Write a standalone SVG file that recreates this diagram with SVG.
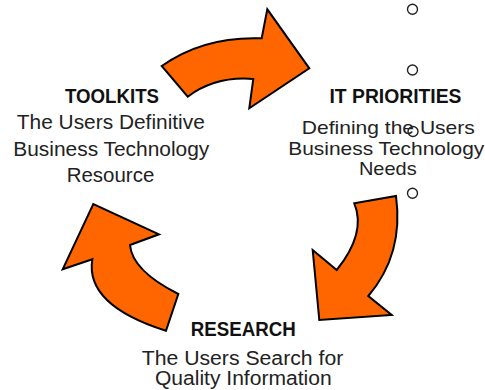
<svg xmlns="http://www.w3.org/2000/svg" width="485" height="390" viewBox="0 0 485 390">
<style>
.arrow{fill:#ff6600;stroke:#000;stroke-width:2;stroke-linejoin:miter}
.dot{fill:#fff;stroke:#222;stroke-width:1.4}
.h{font-family:"Liberation Sans",Arial,sans-serif;font-weight:bold;font-size:21px;fill:#111;text-anchor:middle}
.b{font-family:"Liberation Sans",Arial,sans-serif;font-size:20px;fill:#222;text-anchor:middle}
.s{font-size:19px}
</style>
<rect width="485" height="390" fill="#fff"/>
<g id="connectors">
<path class="arrow" d="M161.7,66 Q204,36 261.7,38.3 L267.3,9.3 L309.3,68.3 L249.3,108.3 L253.3,79 Q215.5,76 187.7,96.7 Z"/>
<path class="arrow" d="M396,196 Q404,254 368.3,296 L391.7,315 L319.3,320 L312.7,250 L336.7,270 Q366.5,233 354.3,203.3 Z"/>
<path class="arrow" d="M166,330.7 Q85,305 92.3,259.3 L62.7,269.3 L93.3,204 L159,234.3 L130,245 Q132,270.5 178.3,294 Z"/>
</g>
<g id="dots">
<circle class="dot" cx="412.5" cy="9.3" r="5"/>
<circle class="dot" cx="412.5" cy="70" r="5"/>
<circle class="dot" cx="413" cy="131.5" r="5"/>
<circle class="dot" cx="412.5" cy="193.3" r="5"/>
</g>
<g id="toolkits">
<text class="h" x="112" y="103.3" textLength="94" lengthAdjust="spacingAndGlyphs">TOOLKITS</text>
<text class="b" x="110.8" y="129" textLength="188" lengthAdjust="spacingAndGlyphs">The Users Definitive</text>
<text class="b" x="111.3" y="155.5" textLength="196" lengthAdjust="spacingAndGlyphs">Business Technology</text>
<text class="b" x="110.5" y="181.5" textLength="87.6" lengthAdjust="spacingAndGlyphs">Resource</text>
</g>
<g id="it-priorities">
<text class="h" x="395.5" y="103.3" textLength="132" lengthAdjust="spacingAndGlyphs">IT PRIORITIES</text>
<text class="b s" x="388.3" y="134" textLength="173" lengthAdjust="spacingAndGlyphs">Defining the Users</text>
<text class="b s" x="386.3" y="155" textLength="196" lengthAdjust="spacingAndGlyphs">Business Technology</text>
<text class="b s" x="387.8" y="174.5" textLength="57.7" lengthAdjust="spacingAndGlyphs">Needs</text>
</g>
<g id="research">
<text class="h" x="243.3" y="336" textLength="105" lengthAdjust="spacingAndGlyphs">RESEARCH</text>
<text class="b" x="242.5" y="365" textLength="201.6" lengthAdjust="spacingAndGlyphs">The Users Search for</text>
<text class="b" x="243.3" y="385" textLength="176.7" lengthAdjust="spacingAndGlyphs">Quality Information</text>
</g>
</svg>
